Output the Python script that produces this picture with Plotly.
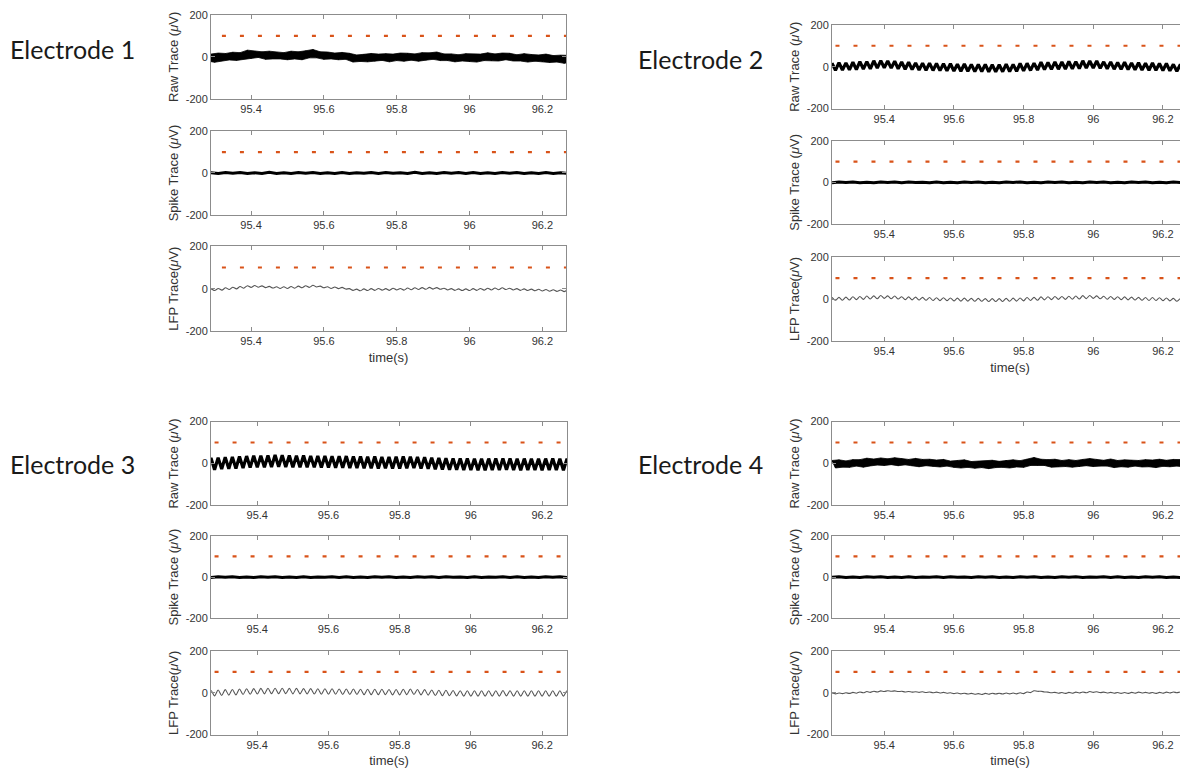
import plotly.graph_objects as go

# the page body has an 8 px margin; the figure is laid out in page pixels minus that
PAGE_W, PAGE_H, OFF = 1188, 780, 8
W, H = PAGE_W - OFF, PAGE_H - OFF

# ---------------- data ----------------
# sample grid: one peak / one trough per 20 ms (50 Hz ripple)
N = 52
time_hi = [round(95.25 + 0.02 * j, 2) for j in range(N)]
time_lo = [round(95.26 + 0.02 * j, 2) for j in range(N)]

x_ticks = [95.4, 95.6, 95.8, 96.0, 96.2]
x_tick_text = ["95.4", "95.6", "95.8", "96", "96.2"]
y_ticks = [-200, 0, 200]
y_tick_text = ["-200", "0", "200"]
threshold_uv = 100

# Electrode 1
e1_raw_hi = [14,9,13,18,16,22,20,32,28,24,27,23,20,27,24,29,35,24,23,18,21,17,9,12,16,13,15,13,18,17,14,20,19,23,14,14,10,15,13,13,19,14,18,17,10,15,11,9,13,6,8,7]
e1_raw_lo = [-25,-20,-26,-20,-15,-17,-10,-8,-3,-12,-10,-10,-14,-10,-14,-5,-5,-12,-10,-14,-12,-25,-22,-24,-21,-17,-24,-18,-21,-16,-21,-16,-12,-18,-18,-24,-20,-23,-25,-18,-19,-20,-14,-20,-20,-25,-21,-24,-27,-25,-31,-25]
e1_spike = [2,-2,1,-2,2,-1,2,-2,1,-2,3,-2,1,-2,2,-1,2,-2,1,-2,2,-2,1,-1,2,-2,2,-1,1,-2,3,-2,1,-2,2,-1,2,-2,2,-2,1,-2,2,-1,2,-2,1,-2,2,-2,1,-2]
e1_lfp_hi = [-2,-1,-1,1,4,7,10,14,15,13,11,9,9,10,12,14,16,12,9,8,6,0,-2,-1,0,1,0,2,1,3,4,5,6,5,2,0,-1,-1,0,1,2,3,4,2,0,-1,-2,-3,-4,-5,-6,-6]
e1_lfp_lo = [-10,-10,-9,-7,-4,-1,2,6,7,5,3,1,1,2,4,6,8,4,1,0,-2,-8,-10,-9,-8,-7,-8,-6,-7,-5,-4,-3,-2,-3,-6,-8,-9,-9,-8,-7,-6,-5,-4,-6,-8,-9,-10,-11,-12,-13,-14,-14]

# Electrode 2
e2_raw_hi = [17,19,18,21,24,24,28,29,27,26,22,21,18,17,17,15,14,14,12,13,11,10,11,9,9,12,11,15,16,17,21,20,23,22,25,24,28,27,27,23,23,20,21,18,19,16,18,15,15,11,10,6]
e2_raw_lo = [-17,-16,-15,-14,-11,-10,-7,-5,-7,-10,-12,-14,-16,-17,-18,-19,-20,-21,-22,-22,-23,-23,-24,-25,-24,-23,-22,-20,-18,-16,-14,-13,-12,-11,-10,-9,-7,-6,-8,-10,-12,-13,-14,-15,-16,-17,-17,-18,-20,-22,-25,-27]
e2_spike = [-2,2,-1,2,-2,1,-2,2,-1,2,-2,2,-1,1,-2,2,-2,1,-2,2,-1,2,-2,1,-2,2,-1,2,-2,1,-2,2,-1,2,-2,1,-2,2,-1,2,-2,1,-2,2,-1,2,-2,1,-2,2,-1,2]
e2_lfp_hi = [8,8,9,11,12,14,15,17,15,14,11,10,9,8,7,6,6,5,4,4,3,3,2,2,2,3,4,5,7,8,10,11,12,12,13,14,16,17,15,13,12,11,10,9,8,7,7,6,5,3,1,0]
e2_lfp_lo = [-6,-6,-5,-3,-2,0,1,3,1,0,-3,-4,-5,-6,-7,-8,-8,-9,-10,-10,-11,-11,-12,-12,-12,-11,-10,-9,-7,-6,-4,-3,-2,-2,-1,0,2,3,1,-1,-2,-3,-4,-5,-6,-7,-7,-8,-9,-11,-13,-14]

# Electrode 3
e3_raw_hi = [24,26,27,30,31,33,35,37,37,38,40,39,38,37,38,36,36,35,34,34,35,33,33,32,33,31,31,32,33,32,31,29,27,26,25,24,23,24,22,22,23,24,24,23,22,23,22,22,23,23,22,23]
e3_raw_lo = [-31,-30,-27,-26,-24,-22,-20,-19,-18,-17,-16,-17,-18,-18,-19,-19,-20,-20,-21,-21,-22,-22,-23,-23,-24,-23,-24,-25,-23,-22,-24,-26,-28,-29,-30,-31,-32,-32,-33,-33,-32,-32,-31,-32,-33,-32,-32,-33,-32,-32,-33,-32]
e3_spike = [1,-2,2,-1,2,-2,1,-2,2,-1,2,-2,1,-2,2,-2,1,-1,2,-2,2,-2,1,-2,2,-1,2,-2,1,-2,2,-1,2,-2,2,-1,1,-2,2,-2,1,-1,2,-2,2,-2,1,-2,2,-1,2,-2]
e3_lfp_hi = [10,11,13,15,16,18,19,20,21,22,22,22,21,21,20,20,19,19,19,18,18,18,17,17,17,17,16,16,17,18,16,15,13,12,12,11,10,10,10,10,10,10,11,10,10,10,10,10,10,10,10,10]
e3_lfp_lo = [-16,-15,-13,-11,-10,-8,-7,-6,-5,-4,-4,-4,-5,-5,-6,-6,-7,-7,-7,-8,-8,-8,-9,-9,-9,-9,-10,-10,-9,-8,-10,-11,-13,-14,-14,-15,-16,-16,-16,-16,-16,-16,-15,-16,-16,-16,-16,-16,-16,-16,-16,-16]

# Electrode 4
e4_raw_hi = [14,17,12,18,18,25,21,26,22,27,23,19,24,19,20,16,19,11,14,17,9,11,11,15,10,15,17,13,20,28,20,18,20,14,18,14,19,23,19,15,21,14,17,16,14,18,16,20,15,19,18,22]
e4_raw_lo = [-22,-18,-19,-13,-18,-12,-8,-10,-6,-11,-7,-12,-16,-11,-14,-17,-13,-19,-22,-19,-23,-20,-25,-20,-19,-22,-17,-19,-10,-9,-10,-18,-15,-15,-18,-16,-11,-15,-13,-13,-20,-16,-18,-13,-17,-16,-20,-14,-16,-13,-16,-13]
e4_spike = [-1,2,-2,1,-2,2,-1,2,-2,1,-2,2,-2,1,-1,2,-2,2,-1,1,-2,2,-1,2,-2,1,-2,2,-1,2,-2,1,-2,2,-1,2,-2,1,-1,2,-2,2,-2,1,-2,2,-1,2,-2,1,-2,2]
e4_lfp_hi = [-1,-1,0,2,4,6,7,9,10,9,7,6,5,5,4,3,2,0,-1,-2,-3,-4,-3,-2,-2,-1,-1,0,4,10,7,3,2,1,2,3,4,6,5,3,2,1,1,2,3,2,1,2,3,4,4,5]
e4_lfp_lo = [-5,-4,-3,-2,0,2,4,6,7,6,4,3,2,1,0,-1,-2,-4,-5,-6,-7,-8,-7,-6,-6,-5,-5,-4,1,7,4,0,-2,-3,-2,-1,0,2,1,-1,-2,-3,-3,-2,-1,-2,-3,-2,-1,0,0,1]

electrode_names = ["Electrode 1", "Electrode 2", "Electrode 3", "Electrode 4"]
x_ranges = [[95.29, 96.265], [95.25, 96.272], [95.27, 96.27], [95.25, 96.272]]
threshold_start = [95.32, 95.26, 95.28, 95.26]
threshold_end = 96.28

# ---------------- layout constants (page pixels) ----------------
panel_x = [(211, 566), (832, 1188), (211, 567), (832, 1188)]
panel_rows = [
    [(9, 94), (127, 212), (244, 330)],
    [(19, 104), (137, 221), (255, 340)],
    [(422, 507), (538, 622), (655, 740)],
    [(422, 507), (538, 622), (655, 740)],
]
label_pos = [(8, 44), (636, 54), (8, 465), (636, 465)]
band_style = [True, False, False, True]   # noisy band (True) or zig-zag (False) raw trace

AX_COL = "#8c8c8c"
TXT_COL = "#333333"
FONT = "Liberation Sans, Arial, sans-serif"
ORANGE = "#D95319"


def px_x(p):
    return (p - OFF) / W


def px_y(p):
    return 1 - (p - OFF) / H


def zigzag(hi, lo):
    t, y = [], []
    for j in range(len(hi)):
        t += [time_hi[j], time_lo[j]]
        y += [hi[j], lo[j]]
    return t, y


def band(hi, lo):
    return time_hi + time_lo[::-1], list(hi) + list(lo)[::-1]


data = {
    0: dict(raw=(e1_raw_hi, e1_raw_lo), spike=e1_spike, lfp=(e1_lfp_hi, e1_lfp_lo)),
    1: dict(raw=(e2_raw_hi, e2_raw_lo), spike=e2_spike, lfp=(e2_lfp_hi, e2_lfp_lo)),
    2: dict(raw=(e3_raw_hi, e3_raw_lo), spike=e3_spike, lfp=(e3_lfp_hi, e3_lfp_lo)),
    3: dict(raw=(e4_raw_hi, e4_raw_lo), spike=e4_spike, lfp=(e4_lfp_hi, e4_lfp_lo)),
}

ytitles = ["Raw Trace (<i>\u03bc</i>V)", "Spike Trace (<i>\u03bc</i>V)", "LFP Trace(<i>\u03bc</i>V)"]

fig = go.Figure()
layout = dict(
    width=W, height=H, margin=dict(l=0, r=0, t=0, b=0),
    paper_bgcolor="white", plot_bgcolor="white", showlegend=False,
    font=dict(family=FONT, color=TXT_COL),
)

ax_i = 0
for e in range(4):
    x0, x1 = panel_x[e]
    for r in range(3):
        ax_i += 1
        xa = "x" if ax_i == 1 else f"x{ax_i}"
        ya = "y" if ax_i == 1 else f"y{ax_i}"
        top, bot = panel_rows[e][r]
        d = data[e]
        if r == 0:
            if band_style[e]:
                t, y = band(*d["raw"])
                fig.add_trace(go.Scatter(x=t, y=y, mode="lines", fill="toself",
                                         fillcolor="black", line=dict(color="black", width=0.8),
                                         xaxis=xa, yaxis=ya, hoverinfo="skip"))
                t, y = zigzag(*d["raw"])
                fig.add_trace(go.Scatter(x=t, y=y, mode="lines", line=dict(color="black", width=1),
                                         xaxis=xa, yaxis=ya, hoverinfo="skip"))
            else:
                t, y = zigzag(*d["raw"])
                fig.add_trace(go.Scatter(x=t, y=y, mode="lines", line=dict(color="black", width=3.2),
                                         xaxis=xa, yaxis=ya, hoverinfo="skip"))
        elif r == 1:
            fig.add_trace(go.Scatter(x=time_hi, y=d["spike"], mode="lines",
                                     line=dict(color="black", width=3),
                                     xaxis=xa, yaxis=ya, hoverinfo="skip"))
        else:
            t, y = zigzag(*d["lfp"])
            fig.add_trace(go.Scatter(x=t, y=y, mode="lines",
                                     line=dict(color="#555555", width=1.1, shape="spline", smoothing=0.8),
                                     xaxis=xa, yaxis=ya, hoverinfo="skip"))
        fig.add_trace(go.Scatter(x=[threshold_start[e], threshold_end],
                                 y=[threshold_uv, threshold_uv], mode="lines",
                                 line=dict(color=ORANGE, width=2.2, dash="4px,14px"),
                                 xaxis=xa, yaxis=ya, hoverinfo="skip"))
        right_cut = e in (1, 3)
        layout["xaxis" if ax_i == 1 else f"xaxis{ax_i}"] = dict(
            domain=[px_x(x0), min(1.0, px_x(x1))], anchor=ya, range=x_ranges[e],
            tickvals=x_ticks, ticktext=x_tick_text, ticks="inside", ticklen=4,
            tickcolor=AX_COL, showline=True, linecolor=AX_COL, linewidth=1,
            mirror="ticks", showgrid=False, zeroline=False,
            tickfont=dict(size=11, family=FONT, color=TXT_COL),
            title=dict(text="time(s)" if r == 2 else "", font=dict(size=13, family=FONT, color=TXT_COL), standoff=6),
        )
        layout["yaxis" if ax_i == 1 else f"yaxis{ax_i}"] = dict(
            domain=[px_y(bot), px_y(top)], anchor=xa, range=[-200, 200],
            tickvals=y_ticks, ticktext=y_tick_text, ticks="inside", ticklen=4,
            tickcolor=AX_COL, showline=True, linecolor=AX_COL, linewidth=1,
            mirror=False if right_cut else "ticks", showgrid=False, zeroline=False,
            tickfont=dict(size=11, family=FONT, color=TXT_COL),
            title=dict(text=ytitles[r], font=dict(size=13, family=FONT, color=TXT_COL), standoff=4),
        )

annotations = []
for e in range(4):
    lx, ly = label_pos[e]
    annotations.append(dict(text=electrode_names[e], x=max(0.0, px_x(lx)), y=px_y(ly),
                            xref="paper", yref="paper", xanchor="left", yanchor="middle",
                            showarrow=False, font=dict(family="Lato, Open Sans, sans-serif", size=25, color="#1a1a1a")))
layout["annotations"] = annotations
fig.update_layout(**layout)
fig.write_html("out.html")
